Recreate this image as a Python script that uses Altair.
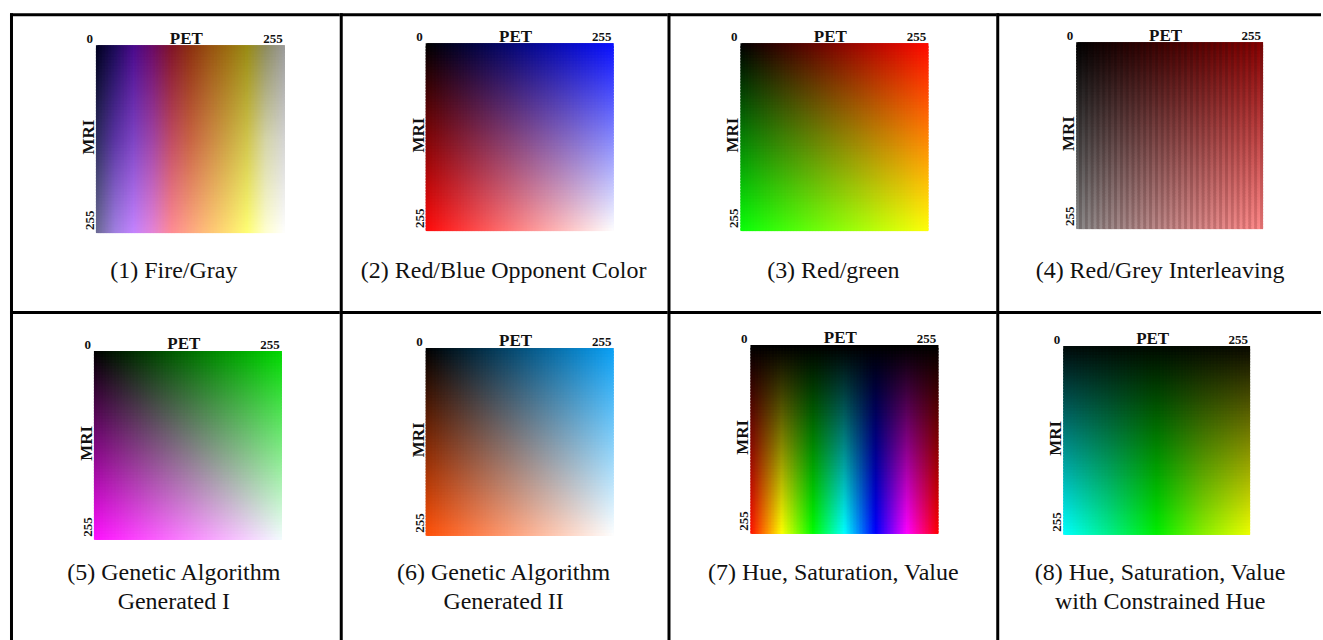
import altair as alt
import numpy as np
import pandas as pd

alt.data_transformers.disable_max_rows()

COLS = 128  # cells along PET in each colour square
ROWS = 64   # cells along MRI
SERIF = "Liberation Serif"

# Colour anchors of each 2-D map: rows run from MRI = 0 (top) to MRI = 255 (bottom),
# each row lists colours evenly spaced along PET from 0 to 255.
fire_gray = [
    ["#00001e", "#1c0a58", "#4a0a8c", "#6a0a64", "#801428", "#8c3010",
     "#965010", "#9a6c10", "#988a14", "#8e8c60", "#9a9a9a"],
    ["#2e2e5e", "#5a34a2", "#7e44c4", "#a044a4", "#c04c64", "#c86444",
     "#cc8444", "#cca444", "#d0c44c", "#d4d4a8", "#d4d4d4"],
    ["#6a6a92", "#a080e0", "#c484ff", "#e484d8", "#ff8c96", "#ffa884",
     "#ffc478", "#ffe074", "#ffff74", "#ffffd0", "#ffffff"],
]
red_blue = [["#000000", "#0a10ff"], ["#ff0a0a", "#ffffff"]]
red_green = [["#000000", "#ff0a00"], ["#0aff0a", "#ffff0a"]]
red_grey_a = [["#000000", "#880000"], ["#8a8a8a", "#ff8a8a"]]
red_grey_b = [["#000000", "#740404"], ["#747070", "#e07272"]]
genetic_1 = [["#000000", "#00d800"], ["#ff10ff", "#f4fcff"]]
genetic_2 = [["#000000", "#0aa0f5"], ["#ff5008", "#ffffff"]]
hsv_full = [
    ["#000000", "#000000", "#000000", "#000000", "#000000", "#000000", "#000000"],
    ["#ff1000", "#ffff00", "#00ff00", "#00ffff", "#0000ff", "#ff00ff", "#ff0000"],
]
hsv_constrained = [
    ["#000a0a", "#000a05", "#000a00", "#050a00", "#0a0a00"],
    ["#00ffff", "#00f088", "#00f000", "#88f000", "#eeff00"],
]

# maps per panel; a panel with two maps alternates them in stripes of two columns
panel_maps = [
    [fire_gray], [red_blue], [red_green], [red_grey_a, red_grey_b],
    [genetic_1], [genetic_2], [hsv_full], [hsv_constrained],
]
captions = [
    ["(1) Fire/Gray"],
    ["(2) Red/Blue Opponent Color"],
    ["(3) Red/green"],
    ["(4) Red/Grey Interleaving"],
    ["(5) Genetic Algorithm", "Generated I"],
    ["(6) Genetic Algorithm", "Generated II"],
    ["(7) Hue, Saturation, Value"],
    ["(8) Hue, Saturation, Value", "with Constrained Hue"],
]
pet_ticks = ["0", "255"]
mri_ticks = ["0", "255"]

# table layout (pixels)
COL_W = [330, 328, 329, 325]
ROW_H = [298, 330]
CAPTION_X = [164, 164, 166, 164]
# colour square inside each cell: x0, x1, y0, y1
BOX = [
    (86, 275, 32, 220), (86, 274, 30, 218), (73, 261, 30, 218), (80, 267, 29, 216),
    (84, 272, 40, 229), (86, 274, 37, 225), (83, 271, 34, 223), (67, 254, 35, 224),
]
CAPTION_Y = [[265], [269, 298]]


def to_rgb(h):
    return [int(h[i:i + 2], 16) for i in (1, 3, 5)]


def render(rows, u, v):
    """Interpolate along PET within each anchor row, then across rows along MRI."""
    per_row = []
    for row in rows:
        rgb = np.array([to_rgb(c) for c in row], float)
        pos = np.linspace(0, 1, len(row))
        per_row.append(np.stack([np.interp(u, pos, rgb[:, k]) for k in range(3)], -1))
    per_row = np.array(per_row)  # (rows, u, 3)
    rpos = np.linspace(0, 1, len(rows))
    out = np.empty((len(v), len(u), 3))
    for i in range(len(u)):
        for k in range(3):
            out[:, i, k] = np.interp(v, rpos, per_row[:, i, k])
    return out


xstep = 256 / COLS
ystep = 256 / ROWS
ucent = (np.arange(COLS) + 0.5) / COLS
vcent = (np.arange(ROWS) + 0.5) / ROWS
records = []
for pid, maps in enumerate(panel_maps):
    imgs = [render(m, ucent, vcent) for m in maps]
    for j in range(COLS):
        img = imgs[(j // 2) % len(imgs)]
        for i in range(ROWS):
            r, g, b = (int(round(c)) for c in img[i, j])
            records.append({
                "panel": pid,
                "pet": j * xstep, "pet_end": (j + 1) * xstep,
                "mri": i * ystep, "mri_end": (i + 1) * ystep,
                "color": "#%02x%02x%02x" % (r, g, b),
            })
grid = pd.DataFrame(records)


def text(txt, x, y, size, bold=False, **kw):
    return alt.Chart(pd.DataFrame({"t": [txt]})).mark_text(
        font=SERIF, fontSize=size, fontWeight="bold" if bold else "normal",
        color="#111111", baseline="alphabetic", **kw
    ).encode(text="t:N", x=alt.value(x), y=alt.value(y))


def panel(pid):
    row, col = divmod(pid, 4)
    W, H = COL_W[col], ROW_H[row]
    x0, x1, y0, y1 = BOX[pid]
    # each cell reaches under its right/lower neighbour (drawn later) so no seams show
    heat = alt.Chart(grid).transform_filter(alt.datum.panel == pid).transform_calculate(
        pet_fill="min(datum.pet_end + 2.5, 256)",
        mri_fill="min(datum.mri_end + 2.5, 256)",
    ).mark_rect(strokeWidth=0).encode(
        x=alt.X("pet:Q", scale=alt.Scale(domain=[0, 256], range=[x0, x1], nice=False, zero=False), axis=None),
        x2="pet_fill:Q",
        y=alt.Y("mri:Q", scale=alt.Scale(domain=[0, 256], range=[y0, y1], nice=False, zero=False), axis=None),
        y2="mri_fill:Q",
        fill=alt.Fill("color:N", scale=None),
    )
    layers = [
        heat,
        text(pet_ticks[0], x0 - 3, y0 - 2, 13, True, align="right"),
        text("PET", (x0 + x1) / 2 - 4, y0 - 1.5, 17, True, align="center"),
        text(pet_ticks[1], x1 - 2, y0 - 2, 13, True, align="right"),
        text("MRI", x0 - 2, (y0 + y1) / 2 - 2, 17, True, align="center", angle=270),
        text(mri_ticks[1], x0 - 2, y1 - 3, 13, True, align="left", angle=270),
    ]
    ys = CAPTION_Y[0] if row == 0 else CAPTION_Y[1]
    for line, yy in zip(captions[pid], ys):
        layers.append(text(line, CAPTION_X[col], yy, 24, align="center"))
    one = pd.DataFrame({"k": [0]})
    layers.append(alt.Chart(one).mark_rule(color="black", strokeWidth=3).encode(
        x=alt.value(1.5), y=alt.value(0), y2=alt.value(H)))
    layers.append(alt.Chart(one).mark_rule(color="black", strokeWidth=3).encode(
        x=alt.value(0), x2=alt.value(W), y=alt.value(1.5)))
    return alt.layer(*layers).properties(width=W, height=H)


chart = alt.concat(
    *[panel(p) for p in range(8)], columns=4, spacing=0, bounds="flush",
).properties(
    padding={"left": 8, "top": 11, "right": 0, "bottom": 0},
    background="white",
).configure_view(stroke=None)

chart.save("out.html", embed_options={"renderer": "svg", "actions": False})
